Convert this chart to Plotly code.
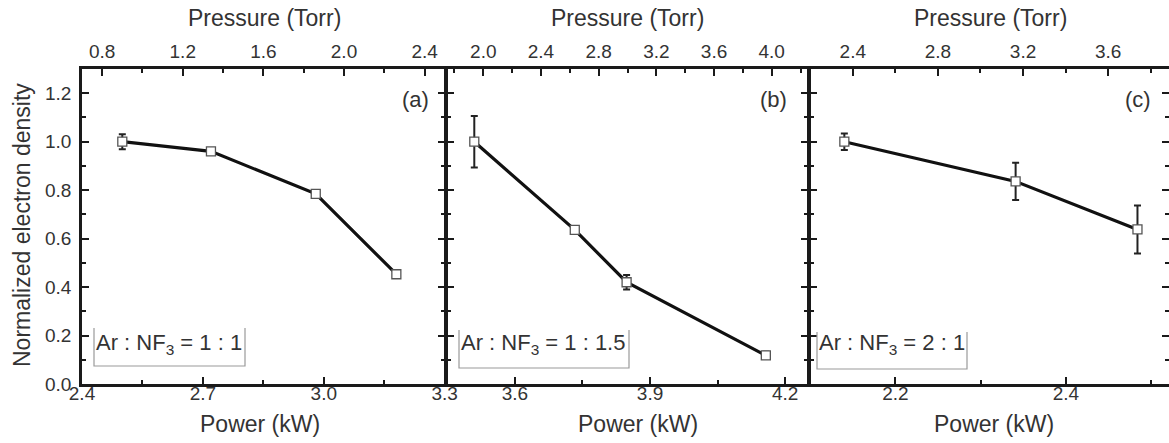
import plotly.graph_objects as go

# ---------------- data ----------------
power_a = [2.50, 2.72, 2.98, 3.18]
dens_a = [1.00, 0.96, 0.785, 0.453]
err_a = [0.031, 0.012, 0.012, 0.012]

power_b = [3.51, 3.733, 3.848, 4.157]
dens_b = [1.00, 0.636, 0.42, 0.118]
err_b = [0.106, 0.015, 0.03, 0.015]

power_c = [2.14, 2.341, 2.484]
dens_c = [1.00, 0.836, 0.638]
err_c = [0.034, 0.077, 0.099]

panel_labels = ["(a)", "(b)", "(c)"]
ratio_labels = ["Ar : NF<sub>3</sub> = 1 : 1", "Ar : NF<sub>3</sub> = 1 : 1.5", "Ar : NF<sub>3</sub> = 2 : 1"]
x_title_bottom = "Power (kW)"
x_title_top = "Pressure (Torr)"
y_title = "Normalized electron density"

# ---------------- layout geometry ----------------
W, H = 1169, 443
L, R, T, B = 82, 0, 69, 59
PW = W - L - R
PH = H - T - B
LW = 2.5
def px(x):
    return (x - L) / PW
def py(y):
    return (H - B - y) / PH

dom = [[0, px(446 - LW / 2)], [px(446 + LW / 2), px(809 - LW / 2)], [px(809 + LW / 2), 1.0]]

FONT = "Liberation Sans, Arial, sans-serif"
TXT = "#333333"
AX = "#1a1a1a"

fig = go.Figure()

series = [(power_a, dens_a, err_a), (power_b, dens_b, err_b), (power_c, dens_c, err_c)]
for i, (xv, yv, ev) in enumerate(series):
    xa = "x" if i == 0 else f"x{i+1}"
    ya = "y" if i == 0 else f"y{i+1}"
    fig.add_trace(go.Scatter(
        x=xv, y=yv, xaxis=xa, yaxis=ya, mode="lines+markers",
        line=dict(color="#111111", width=3.2),
        marker=dict(symbol="square", size=9, color="white", line=dict(color="#555555", width=1.3)),
        error_y=dict(type="data", array=ev, visible=True, color="#222222", thickness=2, width=3.5),
        showlegend=False, hoverinfo="skip",
    ))
    # empty helper trace so the top (pressure) axis is created
    fig.add_trace(go.Scatter(x=[], y=[], xaxis=f"x{i+4}", yaxis=ya, showlegend=False))

bottom_ranges = [[2.4, 3.3001], [3.45, 4.25], [2.1, 2.521]]
bottom_tick0 = [2.4, 3.6, 2.2]
bottom_dtick = [0.3, 0.3, 0.2]
top_ranges = [[0.7, 2.5], [1.75, 4.25], [2.2, 3.886]]
top_tick0 = [0.8, 2.0, 2.4]
top_dtick = [0.4, 0.4, 0.4]

tickfont = dict(family=FONT, size=19, color=TXT)
titlefont = dict(family=FONT, size=23, color=TXT)

for i in range(3):
    xb = "xaxis" if i == 0 else f"xaxis{i+1}"
    yname = "y" if i == 0 else f"y{i+1}"
    fig.layout[xb] = dict(
        domain=dom[i], anchor=yname, range=bottom_ranges[i], automargin=False,
        tick0=bottom_tick0[i], dtick=bottom_dtick[i], tickformat=".1f",
        ticks="inside", ticklen=7, tickwidth=2, tickcolor=AX,
        minor=dict(ticks="inside", ticklen=4, tickwidth=2, tickcolor=AX,
                   dtick=bottom_dtick[i] / 2, tick0=bottom_tick0[i]),
        showline=True, linecolor=AX, linewidth=LW, mirror=False,
        showgrid=False, zeroline=False, tickfont=tickfont, ticklabelstandoff=-10,
    )
    fig.layout[f"xaxis{i+4}"] = dict(
        overlaying="x" if i == 0 else f"x{i+1}", side="top", anchor=yname, automargin=False,
        range=top_ranges[i], tick0=top_tick0[i], dtick=top_dtick[i], tickformat=".1f",
        ticks="inside", ticklen=7, tickwidth=2, tickcolor=AX,
        minor=dict(ticks="inside", ticklen=4, tickwidth=2, tickcolor=AX,
                   dtick=top_dtick[i] / 2, tick0=top_tick0[i]),
        showline=True, linecolor=AX, linewidth=LW,
        showgrid=False, zeroline=False, tickfont=tickfont, ticklabelstandoff=1,
    )
    ya = "yaxis" if i == 0 else f"yaxis{i+1}"
    fig.layout[ya] = dict(
        domain=[0, 1], anchor="x" if i == 0 else f"x{i+1}", range=[0, 1.3], automargin=False,
        tick0=0, dtick=0.2, tickformat=".1f",
        ticks="inside", ticklen=7, tickwidth=2, tickcolor=AX,
        minor=dict(ticks="inside", ticklen=4, tickwidth=2, tickcolor=AX, dtick=0.1, tick0=0),
        showline=True, linecolor=AX, linewidth=LW, mirror="ticks",
        showgrid=False, zeroline=False, tickfont=tickfont, ticklabelstandoff=4,
        showticklabels=(i == 0),
    )

# axis titles as annotations
top_title_x = [264, 627, 990]
bottom_title_x = [260, 638, 994]
for i in range(3):
    fig.add_annotation(text=x_title_top, x=px(top_title_x[i]), y=py(18), xref="paper", yref="paper",
                       showarrow=False, font=titlefont, xanchor="center", yanchor="middle")
    fig.add_annotation(text=x_title_bottom, x=px(bottom_title_x[i]), y=py(424), xref="paper", yref="paper",
                       showarrow=False, font=titlefont, xanchor="center", yanchor="middle")
fig.add_annotation(text=y_title, x=px(22), y=py(225), xref="paper", yref="paper", textangle=-90,
                   showarrow=False, font=titlefont, xanchor="center", yanchor="middle")

# panel labels
label_x = [415, 773, 1138]
for i in range(3):
    fig.add_annotation(text=panel_labels[i], x=px(label_x[i]), y=py(99), xref="paper", yref="paper",
                       showarrow=False, font=dict(family=FONT, size=22, color=TXT),
                       xanchor="center", yanchor="middle")

# ratio boxes (open-top frames like the original)
boxes = [(94, 245, 328, 366), (459, 629, 330, 368), (817, 967, 332, 369)]
for i, (x0, x1, y0, y1) in enumerate(boxes):
    fig.add_shape(type="path", xref="paper", yref="paper",
                  path=f"M {px(x0)},{py(y0)} L {px(x0)},{py(y1)} L {px(x1)},{py(y1)} L {px(x1)},{py(y0)}",
                  line=dict(color="#9a9a9a", width=1.2))
    fig.add_annotation(text=ratio_labels[i], x=px(x0 + 1), y=py(344), xref="paper", yref="paper",
                       showarrow=False, font=dict(family=FONT, size=22, color=TXT),
                       xanchor="left", yanchor="middle", borderpad=0)

fig.update_layout(
    width=W, height=H, margin=dict(l=L, r=R, t=T, b=B, pad=0, autoexpand=False),
    paper_bgcolor="white", plot_bgcolor="white",
    font=dict(family=FONT, color=TXT),
)

fig.write_html("out.html", config={"displayModeBar": False},
               post_script="document.body.style.margin='0';document.body.style.overflow='hidden';")
